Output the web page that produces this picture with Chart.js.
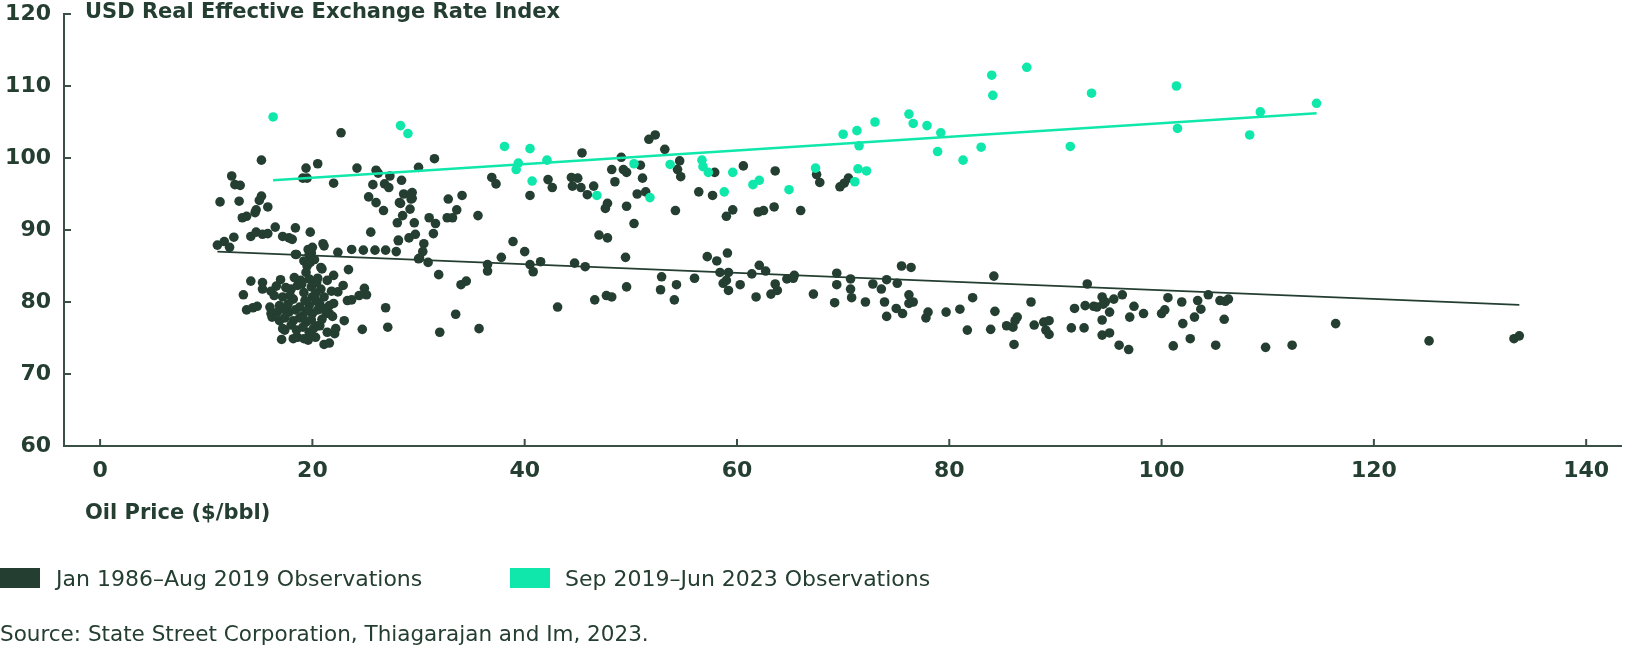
<!DOCTYPE html>
<html>
<head>
<meta charset="utf-8">
<script src="https://cdn.jsdelivr.net/npm/chart.js@4.4.1/dist/chart.umd.min.js"></script>
<style>
  body { margin:0; background:#fff; width:1626px; height:652px; overflow:hidden; position:relative;
         font-family:"DejaVu Sans", sans-serif; color:#243e31; }
  #chart { position:absolute; left:0; top:-10px; }
  .txt { position:absolute; line-height:1; white-space:nowrap; }
  .ttl { left:85px; top:1px; font-weight:bold; font-size:21px; }
  .xttl { left:85px; top:502px; font-weight:bold; font-size:21px; }
  .box { position:absolute; width:40px; height:20px; top:568px; }
  .leg { top:568px; font-size:22px; }
  .src { left:0; top:623px; font-size:21.5px; }
</style>
</head>
<body>
<canvas id="chart" width="1626" height="662"></canvas>
<div class="txt ttl">USD Real Effective Exchange Rate Index</div>
<div class="txt xttl">Oil Price ($/bbl)</div>
<div class="box" style="left:0;background:#243e31"></div>
<div class="txt leg" style="left:56px">Jan 1986–Aug 2019 Observations</div>
<div class="box" style="left:510px;background:#0fe8aa"></div>
<div class="txt leg" style="left:565px">Sep 2019–Jun 2023 Observations</div>
<div class="txt src">Source: State Street Corporation, Thiagarajan and Im, 2023.</div>
<script>
// colours
const DARK = '#243e31';
const TEAL = '#0fe8aa';
const AXIS = '#3a5044';

// axis ticks
const xTickValues = [0, 20, 40, 60, 80, 100, 120, 140];
const yTickValues = [60, 70, 80, 90, 100, 110, 120];

// Jan 1986 - Aug 2019: oil price / REER index pairs
const darkOil = [
  22.7,15.2,12.4,12.7,13.2,11.3,13.1,15.2,15.0,15.8,14.7,14.6,13.8,13.4,19.4,20.5,19.1,19.5,22.0,24.2,
  26.0,26.2,27.3,25.7,26.8,27.2,28.4,30.0,25.3,26.0,26.7,28.2,28.6,29.3,29.3,29.2,28.5,28.0,29.6,16.5,
  18.4,19.8,17.2,17.8,12.6,14.2,14.7,15.3,15.8,25.5,28.1,29.1,29.7,
  11.05,11.7,12.2,18.1,18.4,20.0,19.9,21.0,21.1,22.4,23.7,24.8,25.9,26.9,27.9,28.1,30.0,20.9,22.0,14.2,
  15.3,15.3,13.5,16.6,18.0,19.2,20.8,21.8,22.4,24.9,25.1,23.3,23.7,26.9,27.1,24.7,23.0,13.8,14.4,14.8,
  16.0,16.1,17.1,18.2,18.6,19.6,20.3,21.1,21.6,21.4,22.1,22.2,20.7,21.6,17.4,
  18.5,19.7,19.2,19.5,20.8,19.4,18.3,18.9,19.7,20.5,16.4,17.2,18.2,20.0,21.1,24.4,16.9,17.7,18.8,19.7,
  20.7,21.6,16.7,17.8,19.1,20.0,21.3,16.9,18.2,19.4,20.5,17.2,18.5,19.7,19.2,
  17.5,18.6,19.9,20.3,17.9,19.3,20.4,17.3,18.4,19.5,20.5,17.4,18.8,19.9,20.9,18.0,19.1,20.1,21.0,16.2,
  22.0,21.9,19.6,19.8,20.2,20.4,19.0,17.0,16.1,21.4,22.9,23.4,
  31.5,29.4,29.4,28.3,31.0,31.6,31.4,30.5,30.4,32.8,33.6,33.2,32.7,34.1,35.6,38.9,40.0,37.8,36.9,37.3,
  40.5,42.2,42.6,45.4,44.4,45.0,44.5,45.3,46.5,45.9,47.0,47.8,48.2,48.5,49.1,49.3,49.6,50.9,51.1,51.7,
  52.3,50.6,51.4,47.8,47.6,49.6,50.3,49.5,53.2,54.6,54.4,54.7,54.2,56.4,57.7,57.9,60.6,59.0,59.6,62.0,
  62.5,63.5,63.6,66.0,67.5,57.2,58.1,59.1,67.8,69.7,70.1,70.5,
  30.1,30.9,31.9,34.0,34.5,33.5,32.0,35.7,36.5,36.5,40.5,40.8,41.5,43.1,44.7,45.7,46.6,47.7,48.2,49.6,
  52.9,52.8,54.3,54.1,56.0,58.4,59.2,58.7,59.0,59.2,60.3,61.4,61.8,62.1,62.7,63.2,63.6,63.8,64.7,65.4,
  65.3,67.2,
  69.4,69.4,69.2,70.7,70.7,70.8,72.1,72.8,73.6,74.1,75.1,73.9,74.1,75.5,76.4,75.0,75.6,76.2,76.2,76.6,
  77.8,78.0,79.7,81.0,82.2,81.7,83.9,84.2,84.3,85.4,86.0,86.2,86.4,86.1,87.7,88.0,88.9,89.4,89.4,89.1,
  91.5,92.7,91.8,92.8,93.6,93.9,94.5,94.4,94.7,93.0,95.1,94.4,94.4,95.1,95.5,96.3,96.0,96.9,97.0,97.4,
  98.3,100.0,100.3,100.6,101.1,101.9,102.0,102.7,103.1,103.7,103.4,104.4,105.1,
  105.5,106.0,106.3,105.9,109.8,112.3,116.4,125.2,133.2,133.7
];
const darkReer = [
  103.5,99.7,97.5,96.3,96.2,93.9,94.0,94.7,94.1,93.2,92.8,92.4,91.9,91.7,98.6,99.2,97.2,97.2,96.5,98.6,
  98.3,97.9,97.5,96.3,96.4,95.9,96.9,98.7,94.6,93.8,92.7,93.8,95.0,95.0,94.3,92.9,92.0,91.0,91.0,90.4,
  90.3,89.7,89.1,88.9,89.0,89.1,89.7,89.4,89.5,89.7,88.6,88.9,89.4,
  87.9,88.4,87.6,88.7,86.6,87.6,86.8,88.1,87.8,86.9,87.3,87.2,87.2,87.2,87.0,88.5,86.0,84.6,83.7,82.9,
  82.7,81.8,81.0,82.2,81.8,81.3,81.8,81.5,81.4,81.9,81.0,80.2,80.3,79.2,76.5,76.2,77.4,78.9,79.2,79.4,
  79.3,78.4,74.8,74.9,75.1,74.7,75.1,74.1,74.3,75.8,75.6,76.3,76.7,78.4,76.1,
  86.6,86.6,85.7,85.0,84.8,84.1,83.4,83.0,83.2,83.3,80.9,80.7,80.4,80.7,80.7,80.9,79.5,79.7,79.3,79.5,
  79.7,79.5,78.6,78.6,78.1,78.4,78.4,77.4,77.4,77.2,76.7,76.3,76.1,75.8,74.9,
  82.0,82.3,82.1,81.2,80.9,80.2,80.1,79.0,78.9,78.8,78.9,77.8,77.8,77.5,77.6,76.8,76.5,76.3,79.1,77.9,
  79.8,78.0,87.3,85.5,85.9,82.7,82.5,83.1,81.5,83.0,82.3,84.5,
  99.9,95.2,94.4,93.7,91.7,90.9,89.5,88.1,87.0,94.3,92.8,91.7,91.7,94.8,92.0,88.4,87.0,86.2,97.3,96.4,
  94.8,97.0,95.9,100.7,97.3,97.2,96.1,95.9,96.1,94.9,89.3,88.9,98.4,96.7,100.1,98.4,98.0,99.0,97.2,102.6,
  103.2,95.0,95.3,93.7,93.0,93.3,90.9,86.2,101.2,99.6,98.4,97.4,92.7,95.3,94.8,98.0,98.9,91.9,92.8,92.5,
  92.7,93.2,98.2,92.7,97.7,86.3,85.7,86.8,96.6,96.0,96.5,97.2,
  86.1,85.5,83.8,82.4,82.9,78.3,75.8,76.3,85.2,84.3,85.2,84.2,85.6,79.3,85.4,84.9,80.3,80.9,80.7,82.1,
  83.5,81.7,82.4,80.3,83.3,84.1,84.1,82.6,83.0,81.6,82.4,83.9,80.7,85.1,84.3,81.1,82.5,81.6,83.2,83.7,
  83.3,81.1,
  84.0,82.4,79.9,83.2,81.8,80.6,80.0,82.5,81.8,83.1,82.6,80.0,78.0,85.0,84.8,79.1,78.4,81.0,79.8,80.0,
  77.8,78.6,78.6,79.0,80.6,76.1,76.2,83.6,78.7,76.7,76.5,77.4,77.9,74.1,80.0,76.8,77.2,77.4,75.5,76.1,
  76.4,76.4,79.1,79.5,79.4,79.3,79.7,80.7,80.0,82.5,78.6,77.5,75.4,75.7,80.4,81.0,74.0,73.4,77.9,79.4,
  78.4,78.4,78.9,80.6,73.9,80.0,77.0,74.9,77.9,79.0,80.2,81.0,74.0,
  80.2,80.1,80.4,77.6,73.7,74.0,77.0,74.6,74.9,75.3
];

// Sep 2019 - Jun 2023
const tealOil = [
  16.3,28.3,29.0,38.1,40.5,39.4,39.2,42.1,40.7,46.8,50.3,51.8,53.7,56.7,56.8,57.3,58.8,59.6,61.5,62.1,
  64.9,67.4,70.0,71.3,71.5,73.0,71.4,72.2,71.1,76.2,76.6,77.9,79.2,78.9,81.3,83.0,84.0,84.1,87.3,91.4,
  93.4,101.4,101.5,108.3,109.3,114.6
];
const tealReer = [
  105.7,104.5,103.4,101.6,101.3,99.3,98.4,99.7,96.8,94.8,99.2,94.5,99.1,99.7,98.8,98.0,95.3,98.0,96.3,96.9,
  95.6,98.6,103.3,103.8,101.7,105.0,98.5,98.2,96.7,106.1,104.8,104.5,103.5,100.9,99.7,101.5,111.5,108.7,112.6,101.6,
  109.0,110.0,104.1,103.2,106.4,107.6
];

// fitted trend lines (end points)
const darkTrendOil = [11.05, 133.7];
const darkTrendReer = [87.0, 79.6];
const tealTrendOil = [16.3, 114.6];
const tealTrendReer = [96.9, 106.2];

const toPoints = (xs, ys) => xs.map((x, i) => ({x, y: ys[i]}));

// small inward tick marks on both axes
const innerTicks = {
  id: 'innerTicks',
  beforeDatasetsDraw(chart) {
    const {ctx, chartArea: {left, bottom}, scales: {x, y}} = chart;
    ctx.save();
    ctx.strokeStyle = AXIS;
    ctx.lineWidth = 2;
    x.ticks.forEach(t => {
      const px = x.getPixelForValue(t.value);
      ctx.beginPath(); ctx.moveTo(px, bottom); ctx.lineTo(px, bottom - 7); ctx.stroke();
    });
    y.ticks.forEach(t => {
      const py = y.getPixelForValue(t.value);
      ctx.beginPath(); ctx.moveTo(left, py); ctx.lineTo(left + 7, py); ctx.stroke();
    });
    ctx.restore();
  }
};

const tickFont = {family: '"DejaVu Sans", sans-serif', size: 22, weight: 'bold', lineHeight: 1};

new Chart(document.getElementById('chart'), {
  type: 'scatter',
  data: {
    datasets: [
      {data: toPoints(tealOil, tealReer), backgroundColor: TEAL, pointRadius: 4.8, pointBorderWidth: 0, pointHoverRadius: 4.8},
      {data: toPoints(tealTrendOil, tealTrendReer), showLine: true, borderColor: TEAL, borderWidth: 2.5, pointRadius: 0},
      {data: toPoints(darkTrendOil, darkTrendReer), showLine: true, borderColor: DARK, borderWidth: 1.8, pointRadius: 0},
      {data: toPoints(darkOil, darkReer), backgroundColor: DARK, pointRadius: 4.8, pointBorderWidth: 0, pointHoverRadius: 4.8}
    ]
  },
  options: {
    responsive: false,
    animation: false,
    layout: {padding: {top: 0, left: 0, right: 0, bottom: 0}},
    plugins: {legend: {display: false}, tooltip: {enabled: false}},
    scales: {
      x: {
        type: 'linear', min: -3.4, max: 143.3,
        afterBuildTicks: s => { s.ticks = xTickValues.map(v => ({value: v})); },
        afterFit: s => { s.height = 206; },
        grid: {display: true, drawOnChartArea: false, drawTicks: false},
        border: {display: true, color: AXIS, width: 2},
        ticks: {color: DARK, font: tickFont, padding: 14, maxRotation: 0}
      },
      y: {
        type: 'linear', min: 60, max: 120,
        afterBuildTicks: s => { s.ticks = yTickValues.map(v => ({value: v})); },
        afterFit: s => { s.width = 64; },
        grid: {display: true, drawOnChartArea: false, drawTicks: false},
        border: {display: true, color: AXIS, width: 2},
        ticks: {color: DARK, font: tickFont, padding: 13}
      }
    }
  },
  plugins: [innerTicks]
});
</script>
</body>
</html>
